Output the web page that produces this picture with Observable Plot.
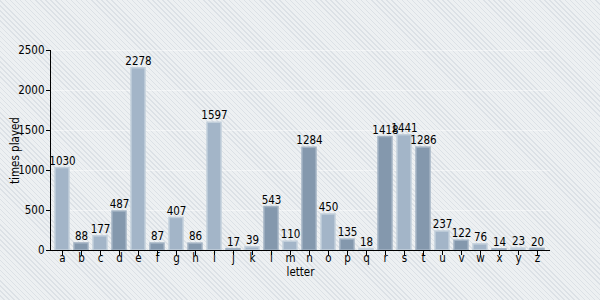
<!DOCTYPE html>
<html>
<head>
<meta charset="utf-8">
<script src="https://cdn.jsdelivr.net/npm/d3@7"></script>
<script src="https://cdn.jsdelivr.net/npm/@observablehq/plot@0.6"></script>
<style>
html, body { margin: 0; padding: 0; }
body { width: 600px; height: 300px; overflow: hidden; }
</style>
</head>
<body>
<div id="chart"></div>
<script>
const letters = ["a","b","c","d","e","f","g","h","i","j","k","l","m","n","o","p","q","r","s","t","u","v","w","x","y","z"];
const timesPlayed = [1030,88,177,487,2278,87,407,86,1597,17,39,543,110,1284,450,135,18,1418,1441,1286,237,122,76,14,23,20];
const yTicks = [0, 500, 1000, 1500, 2000, 2500];

const data = letters.map((l, i) => ({letter: l, value: timesPlayed[i], dark: i % 2 === 1}));

const chart = Plot.plot({
  width: 600,
  height: 300,
  marginTop: 50,
  marginBottom: 50,
  marginLeft: 50,
  marginRight: 50,
  style: {
    fontFamily: "'DejaVu Sans Condensed', 'DejaVu Sans', sans-serif",
    fontStretch: "condensed",
    fontSize: "11.5px",
    color: "black",
    background: "repeating-linear-gradient(45deg, #edf0f2 0px, #edf0f2 2.6px, #dce1e6 2.6px, #dce1e6 3.6px)"
  },
  x: {domain: letters, paddingInner: 0.26, paddingOuter: 0.15},
  y: {domain: [0, 2500]},
  marks: [
    Plot.ruleY(yTicks.slice(1), {stroke: "white", strokeOpacity: 0.45}),
    Plot.barY(data.filter(d => !d.dark), {x: "letter", y: "value", fill: "#a3b5c8", stroke: "#c2cfdb", strokeWidth: 1.5}),
    Plot.barY(data.filter(d => d.dark), {x: "letter", y: "value", fill: "#8498ad", stroke: "#a2b2c3", strokeWidth: 1.5}),
    Plot.text(data, {x: "letter", y: "value", text: d => String(d.value), dy: -7, fill: "black", fontSize: 11.5}),
    Plot.axisY({ticks: yTicks, tickFormat: d => String(d), tickSize: 4, tickPadding: 2, label: "times played", labelAnchor: "center", labelOffset: 40, labelArrow: "none"}),
    Plot.axisX({tickSize: 5, tickPadding: -2, label: "letter", labelAnchor: "center", labelOffset: 25, labelArrow: "none"}),
    Plot.frame({anchor: "left", stroke: "black"}),
    Plot.ruleY([0], {stroke: "black"})
  ]
});
document.getElementById("chart").appendChild(chart);
</script>
</body>
</html>
